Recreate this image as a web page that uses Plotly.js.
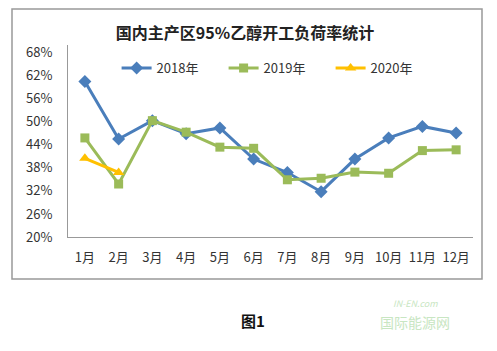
<!DOCTYPE html>
<html><head><meta charset="utf-8">
<script src="https://cdn.plot.ly/plotly-3.0.1.min.js"></script>
<style>html,body{margin:0;padding:0;background:#fff;}#c{width:497px;height:351px;}</style>
</head><body><div id="c"></div>
<script>
const months = ['1月','2月','3月','4月','5月','6月','7月','8月','9月','10月','11月','12月'];
const s2018 = [60.5,45.5,50.3,46.9,48.4,40.3,36.8,31.8,40.3,45.8,48.8,47.1];
const s2019 = [45.8,33.8,50.3,47.3,43.4,43.1,34.9,35.3,36.9,36.6,42.5,42.7];
const s2020 = [40.5,36.8];
const yTicks = [20,26,32,38,44,50,56,62,68];
const yTickText = yTicks.map(v => v + '%');

const F = '"Noto Sans CJK SC", "Liberation Sans", sans-serif';
const traces = [
  {x: months, y: s2018, name: '2018年', type: 'scatter', mode: 'lines+markers',
   line: {color: '#4a7ebb', width: 3}, marker: {symbol: 'diamond', size: 10, color: '#4a7ebb'}},
  {x: months, y: s2019, name: '2019年', type: 'scatter', mode: 'lines+markers',
   line: {color: '#9bbb59', width: 3}, marker: {symbol: 'square', size: 9, color: '#9bbb59'}},
  {x: months.slice(0, s2020.length), y: s2020, name: '2020年', type: 'scatter', mode: 'lines+markers',
   line: {color: '#ffc000', width: 3}, marker: {symbol: 'triangle-up', size: 10, color: '#ffc000'}}
];
const layout = {
  width: 497, height: 351,
  margin: {l: 68, r: 24, t: 45, b: 114},
  paper_bgcolor: '#fff', plot_bgcolor: '#fff',
  font: {family: F, size: 13, color: '#333'},
  showlegend: true,
  title: {text: '<b>国内主产区95%乙醇开工负荷率统计</b>', x: 0.493, xanchor: 'center',
          yref: 'container', y: 1 - 33/351, yanchor: 'middle',
          font: {family: F, size: 16, color: '#222'}},
  legend: {orientation: 'h', x: 0.12, y: 0.88, xanchor: 'left', yanchor: 'middle',
           bgcolor: 'rgba(0,0,0,0)', font: {family: F, size: 13, color: '#333'},
           entrywidth: 62, entrywidthmode: 'pixels'},
  xaxis: {type: 'category', showgrid: false, showline: true, linecolor: '#999', linewidth: 1,
          ticks: '', tickfont: {family: F, size: 13, color: '#333'}, zeroline: false,
          range: [-0.5, 11.5], ticklabelstandoff: 8},
  yaxis: {range: [20, 70], tickvals: yTicks, ticktext: yTickText, showgrid: false,
          showline: true, linecolor: '#999', linewidth: 1, ticks: '', zeroline: false,
          ticklabelstandoff: 12,
          tickfont: {family: F, size: 13, color: '#333'}},
  shapes: [
    {type: 'rect', xref: 'paper', yref: 'paper', x0: (12-68)/405, x1: (482-68)/405,
     y0: (237-279)/192, y1: (237-9)/192, line: {color: '#999', width: 1.5}, fillcolor: 'rgba(0,0,0,0)', layer: 'below'}
  ],
  annotations: [
    {text: '<b>图1</b>', xref: 'paper', yref: 'paper', x: (253-68)/405, y: (237-333)/192,
     showarrow: false, font: {family: F, size: 15, color: '#111'}},
    {text: '<i>IN-EN.com</i>', xref: 'paper', yref: 'paper', x: (440-68)/405, y: (237-312)/192,
     showarrow: false, font: {family: F, size: 9, color: '#c8e6c2'}},
    {text: '国际能源网', xref: 'paper', yref: 'paper', x: (452-68)/405, y: (237-334)/192,
     showarrow: false, font: {family: F, size: 14, color: '#c8e6c2'}}
  ]
};
Plotly.newPlot('c', traces, layout, {displayModeBar: false, staticPlot: true});
</script></body></html>
